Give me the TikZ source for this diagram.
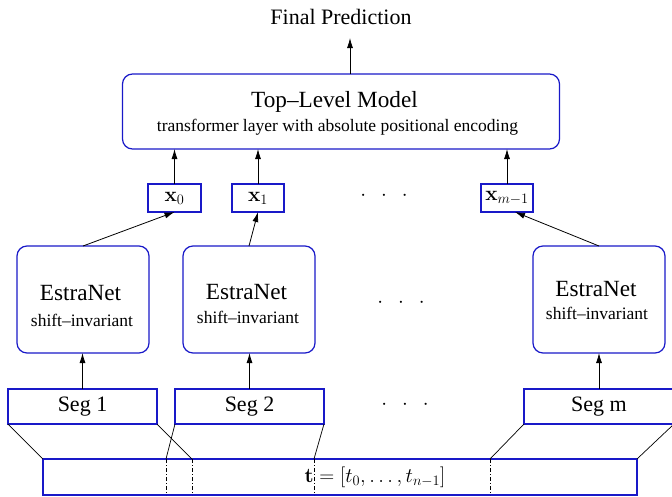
\documentclass[tikz,border=0pt]{standalone}
\usepackage[no-math]{fontspec}
\setmainfont{Liberation Serif}
\usetikzlibrary{arrows.meta,calc}
\definecolor{boxblue}{RGB}{25,25,200}
\begin{document}
\begin{tikzpicture}[x=1pt,y=-1pt,
  bigtxt/.style={font=\fontsize{22}{26}\selectfont},
  hugetxt/.style={font=\fontsize{23.2}{27}\selectfont},
  smalltxt/.style={font=\fontsize{17.5}{20}\selectfont},
  dots/.style={font=\fontsize{22}{26}\selectfont},
  blk/.style={draw=boxblue,line width=1.2pt,inner sep=0pt,outer sep=0pt},
  rblk/.style={blk,rounded corners=10pt},
  arr/.style={-{Latex[length=10pt,width=6pt]},line width=0.8pt},
  ln/.style={line width=0.7pt},
  dd/.style={line width=0.5pt,dash pattern=on 4pt off 2pt on 1pt off 2pt}]
\useasboundingbox (0,0) rectangle (672,496);

% top level
\node[bigtxt] (final) at (341,17) {Final Prediction};
\node[rblk,minimum width=437pt,minimum height=75pt] (top) at (341,111.5) {};
\node[hugetxt] (toptitle) at (334.5,102) {Top–Level Model};
\node[smalltxt] (topsub) at (337.5,127) {transformer layer with absolute positional encoding};
\coordinate (fpt) at (350,38);
\draw[arr] (top.north -| fpt) -- (fpt);

% x boxes
\node[blk,bigtxt,minimum width=53pt,minimum height=28pt] (x0) at (174.5,198) {$\mathbf{x}_0$};
\node[blk,bigtxt,minimum width=52pt,minimum height=28pt] (x1) at (258,198) {$\mathbf{x}_1$};
\node[blk,bigtxt,minimum width=52pt,minimum height=28pt] (xm) at (507,198) {$\mathbf{x}_{m-1}$};
\node[dots] (d1) at (384,196) {${\cdot}\mkern13mu{\cdot}\mkern13mu{\cdot}$};
\draw[arr] (x0.north) -- (x0.north |- top.south);
\draw[arr] (x1.north) -- (x1.north |- top.south);
\draw[arr] (xm.north) -- (xm.north |- top.south);

% EstraNet boxes
\node[rblk,minimum width=132pt,minimum height=107pt] (e1) at (83,299.5) {};
\node[rblk,minimum width=132pt,minimum height=107pt] (e2) at (249,299.5) {};
\node[rblk,minimum width=132pt,minimum height=107pt] (e3) at (599,299.5) {};
\node[hugetxt] (e1a) at (80.5,293) {EstraNet};
\node[smalltxt] (e1b) at (82,320) {shift–invariant};
\node[hugetxt] (e2a) at (246.5,292) {EstraNet};
\node[smalltxt] (e2b) at (248,317) {shift–invariant};
\node[hugetxt] (e3a) at (596,289) {EstraNet};
\node[smalltxt] (e3b) at (597,313) {shift–invariant};
\node[dots] (d2) at (401,303) {${\cdot}\mkern13mu{\cdot}\mkern13mu{\cdot}$};
\draw[arr] (e1.north) -- (x0.south);
\draw[arr] (e2.north) -- (x1.south);
\draw[arr] (e3.north) -- ([xshift=8pt]xm.south);

% segments
\node[blk,bigtxt,minimum width=149pt,minimum height=35pt] (s1) at (82.5,406.5) {Seg 1};
\node[blk,bigtxt,minimum width=149pt,minimum height=35pt] (s2) at (249.5,406.5) {Seg 2};
\node[blk,bigtxt,minimum width=150pt,minimum height=35pt] (sm) at (599,406.5) {Seg m};
\node[dots] (d3) at (405,405) {${\cdot}\mkern13mu{\cdot}\mkern13mu{\cdot}$};
\draw[arr] (s1.north) -- (s1.north |- e1.south);
\draw[arr] (s2.north) -- (s2.north |- e2.south);
\draw[arr] (sm.north) -- (sm.north |- e3.south);

% trace
\node[blk,minimum width=594pt,minimum height=36pt] (tb) at (340,477) {};
\node[bigtxt] (teq) at (375,477) {$\mathbf{t}=[t_0,\ldots,t_{n-1}]$};
\coordinate (q1) at (192,459);
\coordinate (q2) at (166,459);
\coordinate (q3) at (314,459);
\coordinate (q4) at (490,459);
\draw[ln] (s1.south west) -- (tb.north west);
\draw[ln] (s1.south east) -- (q1);
\draw[ln] (s2.south west) -- (q2);
\draw[ln] (s2.south east) -- (q3);
\draw[ln] (sm.south west) -- (q4);
\draw[ln] (sm.south east) -- (tb.north east);
\draw[dd] (q1) -- (q1 |- tb.south);
\draw[dd] (q2) -- (q2 |- tb.south);
\draw[dd] (q3) -- (q3 |- tb.south);
\draw[dd] (q4) -- (q4 |- tb.south);
\end{tikzpicture}
\end{document}
